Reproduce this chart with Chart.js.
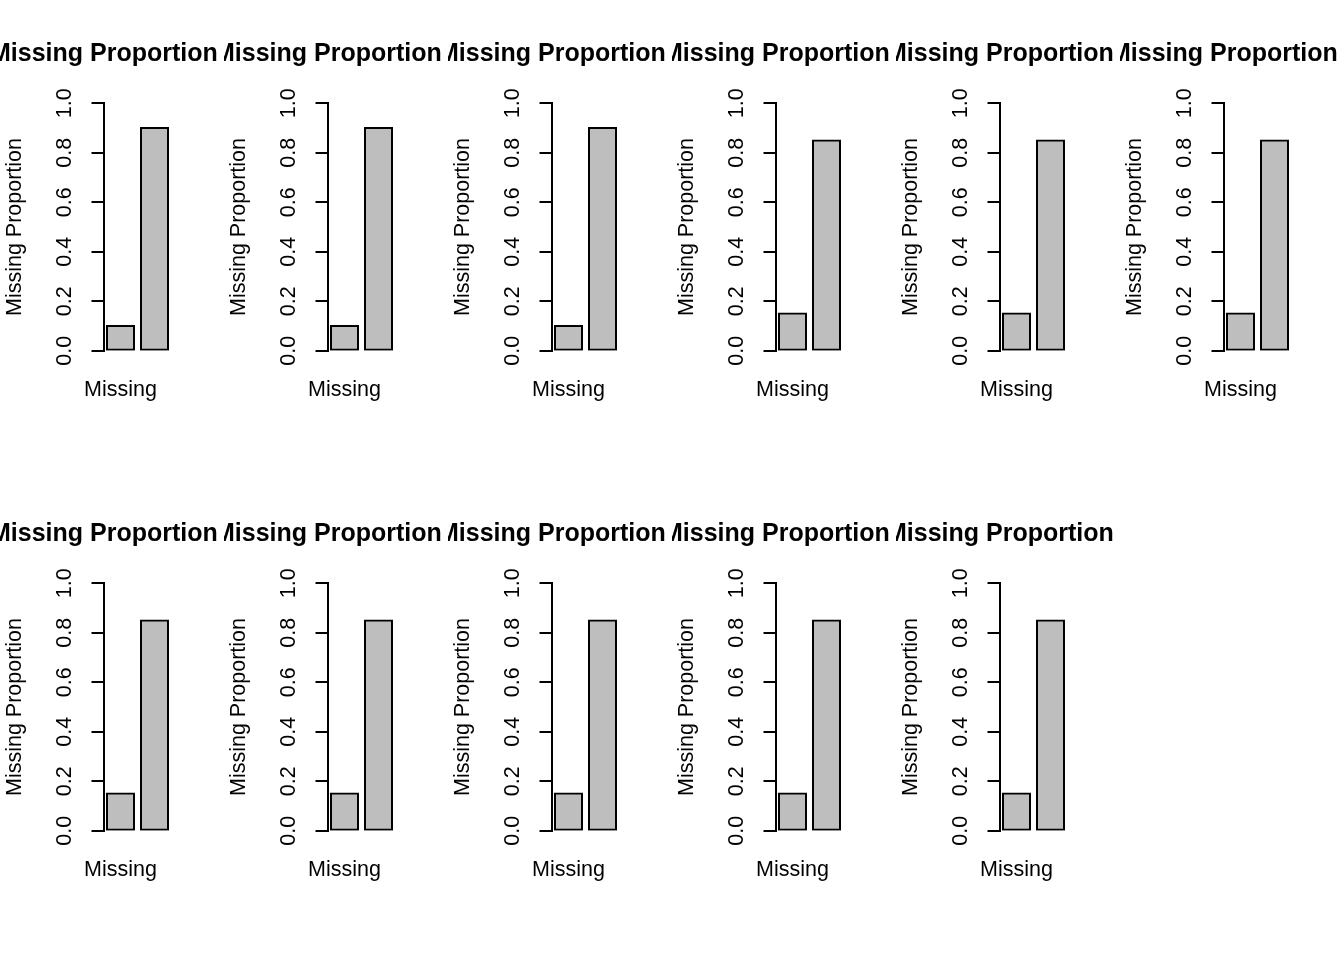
<!DOCTYPE html>
<html><head><meta charset="utf-8">
<script src="https://cdn.jsdelivr.net/npm/chart.js@4.4.1/dist/chart.umd.min.js"></script>
<style>
html,body{margin:0;padding:0;background:#fff;}
#wrap{position:relative;width:1344px;height:960px;overflow:hidden;background:#fff;}
.panel{position:absolute;width:224px;height:480px;overflow:hidden;}
.panel canvas{position:absolute;left:-40px;top:0;}
</style></head><body><div id="wrap"></div>
<script>
// ---- data ----
const mainTitle = "Missing Proportion";
const yAxisTitle = "Missing Proportion";
const categories = ["Missing", ""];
const firstBarValues  = [0.10, 0.10, 0.10, 0.15, 0.15, 0.15, 0.15, 0.15, 0.15, 0.15, 0.15];
const secondBarValues = [0.90, 0.90, 0.90, 0.85, 0.85, 0.85, 0.85, 0.85, 0.85, 0.85, 0.85];
const yTickValues = [0, 0.2, 0.4, 0.6, 0.8, 1.0];
const yTickLabels = ["0.0", "0.2", "0.4", "0.6", "0.8", "1.0"];

// ---- layout (panel coordinates) ----
const PANEL_W = 224, PANEL_H = 480, COLS = 6;
const EXTRA = 40;                 // canvas extends left by this much (clipped by panel)
const CANVAS_W = 304;
const AREA_LEFT = 103.5, AREA_RIGHT = 171.5, AREA_TOP = 103.3, AREA_BOTTOM = 350.7;
const TITLE_START = -10;          // left edge of main title text
const FONT = "'Liberation Sans', Arial, Helvetica, sans-serif";
const TITLE_SIZE = 25, AXIS_SIZE = 21.5;

Chart.defaults.font.family = FONT;
Chart.defaults.color = '#000';

const wrap = document.getElementById('wrap');
for (let i = 0; i < firstBarValues.length; i++) {
  const col = i % COLS, row = Math.floor(i / COLS);
  const panel = document.createElement('div');
  panel.className = 'panel';
  panel.style.left = (col * PANEL_W) + 'px';
  panel.style.top = (row * PANEL_H) + 'px';
  const cv = document.createElement('canvas');
  cv.width = CANVAS_W; cv.height = PANEL_H;
  cv.style.width = CANVAS_W + 'px'; cv.style.height = PANEL_H + 'px';
  panel.appendChild(cv);
  wrap.appendChild(panel);

  const padLeft = TITLE_START + EXTRA;
  const rightGap = CANVAS_W - (AREA_RIGHT + EXTRA);
  const titleLH = TITLE_SIZE * 1.2;
  const titleMid = 54.5;
  const titlePadTop = titleMid - titleLH / 2;
  const titlePadBottom = AREA_TOP - titleLH - titlePadTop;
  const axisLH = AXIS_SIZE * 1.2;

  new Chart(cv, {
    type: 'bar',
    data: {
      labels: categories,
      datasets: [{
        data: [firstBarValues[i], secondBarValues[i]],
        backgroundColor: '#BEBEBE',
        borderColor: '#000',
        borderWidth: 2,
        borderSkipped: false,
        inflateAmount: 1,
        barPercentage: 27 / 34,
        categoryPercentage: 1.0
      }]
    },
    options: {
      responsive: false,
      animation: false,
      devicePixelRatio: 1,
      events: [],
      layout: { padding: { left: padLeft, right: 0, top: 0, bottom: 0 } },
      plugins: {
        legend: { display: false },
        tooltip: { enabled: false },
        title: {
          display: true,
          text: mainTitle,
          align: 'start',
          color: '#000',
          font: { size: TITLE_SIZE, weight: 'bold', family: FONT },
          padding: { top: titlePadTop, bottom: titlePadBottom }
        }
      },
      scales: {
        x: {
          type: 'category',
          offset: true,
          grid: { display: false },
          border: { display: false },
          ticks: {
            autoSkip: false, minRotation: 0, maxRotation: 0,
            padding: 18,
            color: '#000',
            font: { size: AXIS_SIZE, family: FONT }
          },
          afterFit: (s) => { s.height = PANEL_H - AREA_BOTTOM; }
        },
        y: {
          type: 'linear',
          min: 0, max: 1,
          grid: { display: true, drawOnChartArea: false, drawTicks: true, tickLength: 12, color: '#000', lineWidth: 2 },
          border: { display: true, color: '#000', width: 2 },
          afterBuildTicks: (s) => { s.ticks = yTickValues.map(v => ({ value: v })); },
          ticks: {
            autoSkip: false,
            minRotation: 90, maxRotation: 90,
            crossAlign: 'center',
            padding: 11,
            color: '#000',
            font: { size: AXIS_SIZE, family: FONT },
            callback: (v, idx) => yTickLabels[idx]
          },
          title: {
            display: true,
            text: yAxisTitle,
            color: '#000',
            font: { size: AXIS_SIZE, family: FONT },
            padding: { top: (15 - TITLE_START) - axisLH / 2, bottom: 0 }
          },
          afterFit: (s) => { s.width = AREA_LEFT - TITLE_START; }
        },
        rightMargin: {
          type: 'linear',
          position: 'right',
          display: true,
          grid: { display: false },
          border: { display: false },
          ticks: { display: false },
          afterFit: (s) => { s.width = rightGap; }
        }
      }
    }
  });
}
</script></body></html>
